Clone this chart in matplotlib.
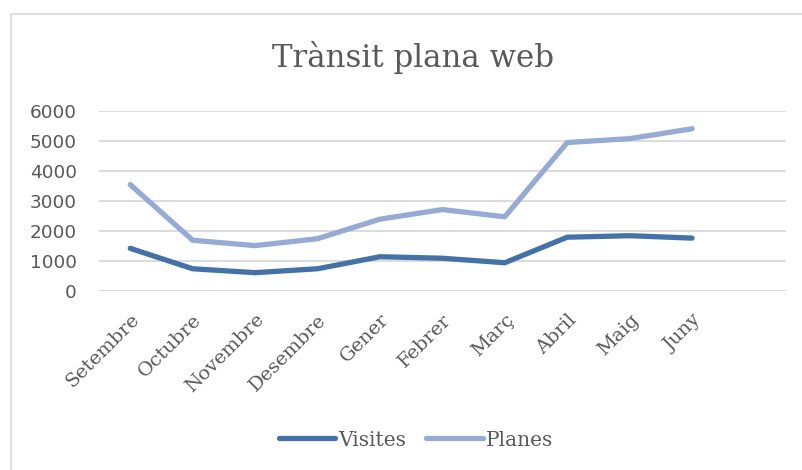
import matplotlib
matplotlib.use("Agg")
import matplotlib.pyplot as plt
from matplotlib.patches import Rectangle

months = ["Setembre", "Octubre", "Novembre", "Desembre", "Gener",
          "Febrer", "Març", "Abril", "Maig", "Juny"]
visites = [1430, 750, 620, 750, 1150, 1100, 950, 1800, 1850, 1770]
planes = [3550, 1700, 1520, 1750, 2400, 2720, 2480, 4950, 5080, 5410]
yticks = [0, 1000, 2000, 3000, 4000, 5000, 6000]

c_vis = "#4472A7"
c_pla = "#95ABD3"
txt = "#595959"
serif = ["DejaVu Serif"]
sans = ["DejaVu Sans"]

fig = plt.figure(figsize=(8.02, 4.70), dpi=100)
W, H = 802, 470

# outer chart frame
fig.patches.append(Rectangle((11 / W, -0.1), 1.2, (470 - 14) / H + 0.1,
                             transform=fig.transFigure, fill=False,
                             edgecolor="#D9D9D9", lw=1.2))

ax = fig.add_axes([99 / W, (H - 291.3) / H, (785.7 - 99) / W, (291.3 - 111) / H])
x = list(range(len(months)))
ax.plot(x, visites, color=c_vis, lw=3.8, solid_capstyle="round",
        solid_joinstyle="round", label="Visites", zorder=3)
ax.plot(x, planes, color=c_pla, lw=3.8, solid_capstyle="round",
        solid_joinstyle="round", label="Planes", zorder=3)

ax.set_xlim(-0.5, len(months) + 0.5)
ax.set_ylim(0, 6000)
ax.set_yticks(yticks)
ax.set_yticklabels([str(v) for v in yticks], family=sans, fontsize=13.3, color=txt)
ax.set_xticks(x)
ax.set_xticklabels(months, rotation=45, ha="right", rotation_mode="anchor",
                   family=serif, fontsize=14, color=txt)
ax.tick_params(axis="both", length=0)
ax.tick_params(axis="y", pad=16)
ax.tick_params(axis="x", pad=14)
ax.grid(axis="y", color="#D9D9D9", lw=1.3)
ax.set_axisbelow(True)
for s in ax.spines.values():
    s.set_visible(False)

fig.text(413 / W, 1 - 58 / H, "Trànsit plana web", ha="center", va="center",
         family=serif, fontsize=22.2, color=txt)

leg = fig.legend(loc="center", bbox_to_anchor=(416 / W, 1 - 440 / H), ncol=2,
                 frameon=False, prop={"family": serif, "size": 14.5},
                 handlelength=2.8, handletextpad=0.15, columnspacing=1.0)
for t in leg.get_texts():
    t.set_color(txt)

fig.savefig("out.png", dpi=100)
